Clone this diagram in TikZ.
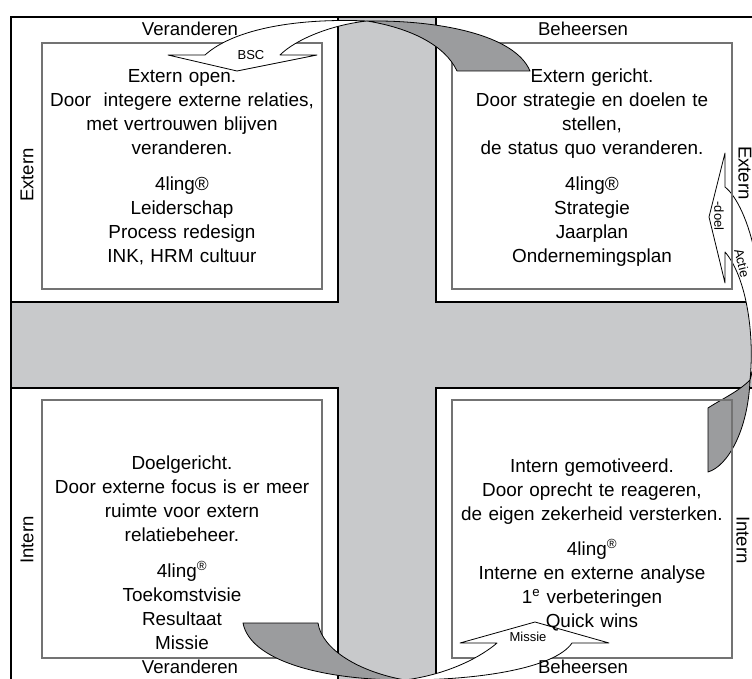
\documentclass[tikz,border=0pt]{standalone}
\usepackage{fontspec}
\setmainfont{Liberation Sans}
\definecolor{crossgray}{RGB}{200,201,203}
\definecolor{backgray}{RGB}{155,156,158}
\definecolor{boxline}{RGB}{115,115,115}
\begin{document}
\begin{tikzpicture}[x=1pt,y=-1pt,
  frame/.style={line width=2.2pt, black},
  crossedge/.style={line width=2pt, black},
  quad/.style={draw=boxline, line width=1.2pt},
  front/.style={fill=white, draw=black, line width=0.8pt, line join=round},
  back/.style={fill=backgray, draw=black, line width=0.8pt, line join=round},
  body/.style={font=\fontsize{18.9}{24}\selectfont, align=center, text width=300pt, anchor=base, inner sep=0pt},
  side/.style={font=\fontsize{18.6}{22}\selectfont, inner sep=0pt},
  tag/.style={font=\fontsize{13}{15}\selectfont, inner sep=0pt}
]
\useasboundingbox (0,0) rectangle (752,679);
\clip (0,0) rectangle (752,679);

% grey cross
\fill[crossgray] (338,17) rectangle (436,679);
\fill[crossgray] (11,302) rectangle (752,388);
\draw[crossedge] (338,17) -- (338,302) -- (11,302);
\draw[crossedge] (436,17) -- (436,302) -- (752,302);
\draw[crossedge] (11,388) -- (338,388) -- (338,679);
\draw[crossedge] (752,388) -- (436,388) -- (436,679);

% outer frame
\draw[frame] (752,17) -- (11,17) -- (11,679);

% right curved arrow (Actie / -doel)
\draw[front] (725,187) .. controls (748,205) and (775,290) .. (750,380)
  .. controls (755,330) and (745,275) .. (725,252)
  -- (725,283) -- (709,217) -- (725,153) -- cycle;
\draw[back] (750,380) .. controls (738,392) and (720,400) .. (708,408)
  -- (708,472) .. controls (728,466) and (748,430) .. (750,380) -- cycle;

% quadrant boxes
\draw[quad] (42,43) rectangle (322,289);
\draw[quad] (452,43) rectangle (732,289);
\draw[quad] (42,400) rectangle (322,658);
\draw[quad] (452,400) rectangle (732,658);

% top curved arrow (BSC)
\draw[front] (205,55) -- (168,55) -- (237,71) -- (317,55) -- (280,55)
  .. controls (295,40) and (330,25) .. (367,21)
  .. controls (300,18) and (235,28) .. (205,55) -- cycle;
\draw[back] (367,21) .. controls (440,20) and (515,35) .. (530,71)
  -- (457,71) .. controls (445,45) and (410,28) .. (367,21) -- cycle;

% bottom curved arrow (Missie)
\draw[back] (243,623) -- (318,623) .. controls (322,650) and (360,672) .. (405,680)
  .. controls (320,680) and (250,660) .. (243,623) -- cycle;
\draw[front] (405,680) .. controls (480,680) and (555,668) .. (572,643)
  -- (609,643) -- (535,622) -- (460,643) -- (497,643)
  .. controls (482,656) and (450,674) .. (405,680) -- cycle;

% axis labels
\node[side, anchor=base] (vt) at (190,36) {Veranderen};
\node[side, anchor=base] (bt) at (583,36) {Beheersen};
\node[side, anchor=base] (vb) at (190,673) {Veranderen};
\node[side, anchor=base] (bb) at (583,673) {Beheersen};
\node[side, rotate=90] (el) at (27,175) {Extern};
\node[side, rotate=90] (il) at (27,540) {Intern};
\node[side, rotate=-90] (er) at (745,173) {Extern};
\node[side, rotate=-90] (ir) at (743,540) {Intern};

% arrow labels
\node[tag] (bsc) at (251,55) {BSC};
\node[tag] (missie) at (528,637) {Missie};
\node[tag, rotate=-90] (doel) at (719,216) {-doel};
\node[tag, rotate=-76] (actie) at (742,263) {Actie};

% quadrant texts
\node[body] (tl) at (182,83) {Extern open.\\Door\ \ integere externe relaties,\\met vertrouwen blijven\\veranderen.\\[12pt]4ling®\\Leiderschap\\Process redesign\\INK, HRM cultuur};
\node[body] (tr) at (592,83) {Extern gericht.\\Door strategie en doelen te\\stellen,\\de status quo veranderen.\\[12pt]4ling®\\Strategie\\Jaarplan\\Ondernemingsplan};
\node[body] (bl) at (182,469) {Doelgericht.\\Door externe focus is er meer\\ruimte voor extern\\relatiebeheer.\\[12pt]4ling\textsuperscript{®}\\Toekomstvisie\\Resultaat\\Missie};
\node[body] (br) at (592,472) {Intern gemotiveerd.\\Door oprecht te reageren,\\de eigen zekerheid versterken.\\[11pt]4ling\textsuperscript{®}\\Interne en externe analyse\\1\textsuperscript{e} verbeteringen\\Quick wins};
\end{tikzpicture}
\end{document}
